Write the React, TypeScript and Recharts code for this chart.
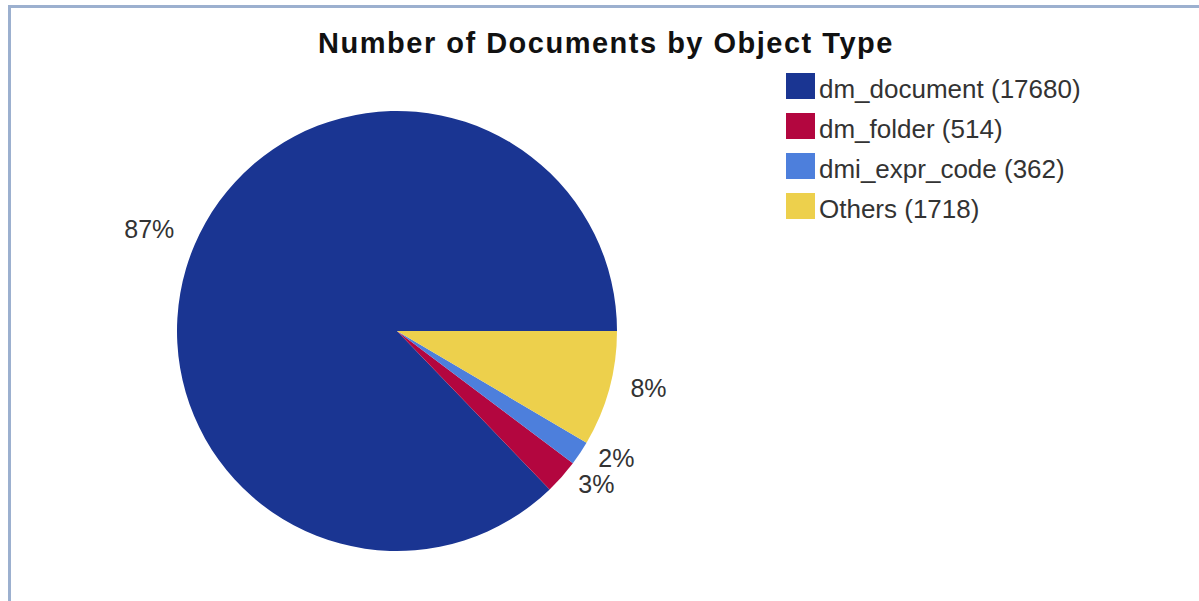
import React from 'react';
import { PieChart, Pie, Cell, Legend } from 'recharts';

const categories = ['dm_document', 'dm_folder', 'dmi_expr_code', 'Others'];
const counts = [17680, 514, 362, 1718];
const sliceColors = ['#1a3592', '#b3063f', '#4d7fdc', '#edd04c'];
const title = 'Number of Documents by Object Type';

const data = categories.map((name, i) => ({ name, value: counts[i] }));

const FONT = '"Liberation Sans", Arial, "DejaVu Sans", sans-serif';
const RADIAN = Math.PI / 180;

const renderLabel = (props: any) => {
  const { cx, cy, midAngle, outerRadius, percent } = props;
  const r = outerRadius + 22;
  const cos = Math.cos(-midAngle * RADIAN);
  const sin = Math.sin(-midAngle * RADIAN);
  const x = cx + r * cos;
  const y = cy + r * sin - 7;
  return (
    <text
      x={x}
      y={y}
      fill="#333333"
      fontSize={25}
      fontFamily={FONT}
      textAnchor={cos >= 0 ? 'start' : 'end'}
      dominantBaseline="central"
    >
      {`${Math.round(percent * 100)}%`}
    </text>
  );
};

const renderLegend = (props: any) => {
  const payload = [...(props.payload || [])].sort(
    (a: any, b: any) => categories.indexOf(a.value) - categories.indexOf(b.value)
  );
  return (
    <div style={{ fontFamily: FONT }}>
      {payload.map((entry: any, i: number) => {
        const idx = categories.indexOf(entry.value);
        return (
          <div
            key={i}
            style={{ display: 'flex', alignItems: 'center', height: 40 }}
          >
            <div
              style={{
                width: 29,
                height: 26,
                background: entry.color,
                marginRight: 4,
                flex: '0 0 auto',
              }}
            />
            <span
              style={{
                fontSize: 26,
                color: '#333333',
                whiteSpace: 'nowrap',
                position: 'relative',
                top: 3,
              }}
            >
              {`${entry.value} (${counts[idx]})`}
            </span>
          </div>
        );
      })}
    </div>
  );
};

export default function App() {
  return (
    <div
      style={{
        position: 'absolute',
        left: 0,
        top: 0,
        width: 1199,
        height: 601,
        overflow: 'hidden',
        background: '#ffffff',
      }}
    >
      <div
        style={{
          position: 'absolute',
          left: 8,
          top: 5,
          width: 1400,
          height: 800,
          border: '3px solid #9cb0cf',
          boxSizing: 'border-box',
        }}
      />
      <div
        style={{
          position: 'absolute',
          left: 0,
          width: 1212,
          top: 28,
          textAlign: 'center',
          fontFamily: FONT,
          fontWeight: 'bold',
          fontSize: 29,
          lineHeight: '30px',
          letterSpacing: 1.5,
          color: '#111111',
          whiteSpace: 'nowrap',
        }}
      >
        {title}
      </div>
      <div style={{ position: 'absolute', left: 0, top: 0 }}>
        <PieChart width={1199} height={601} margin={{ top: 0, right: 0, bottom: 0, left: 0 }}>
          <Pie
            data={data}
            dataKey="value"
            nameKey="name"
            cx={397}
            cy={331}
            outerRadius={220}
            startAngle={0}
            endAngle={360}
            stroke="none"
            label={renderLabel}
            labelLine={false}
            isAnimationActive={false}
          >
            {data.map((d, i) => (
              <Cell key={d.name} fill={sliceColors[i]} />
            ))}
          </Pie>
          <Legend
            layout="vertical"
            verticalAlign="top"
            align="right"
            itemSorter={null as any}
            content={renderLegend}
            wrapperStyle={{ position: 'absolute', left: 786, top: 66, width: 400 }}
          />
        </PieChart>
      </div>
    </div>
  );
}
